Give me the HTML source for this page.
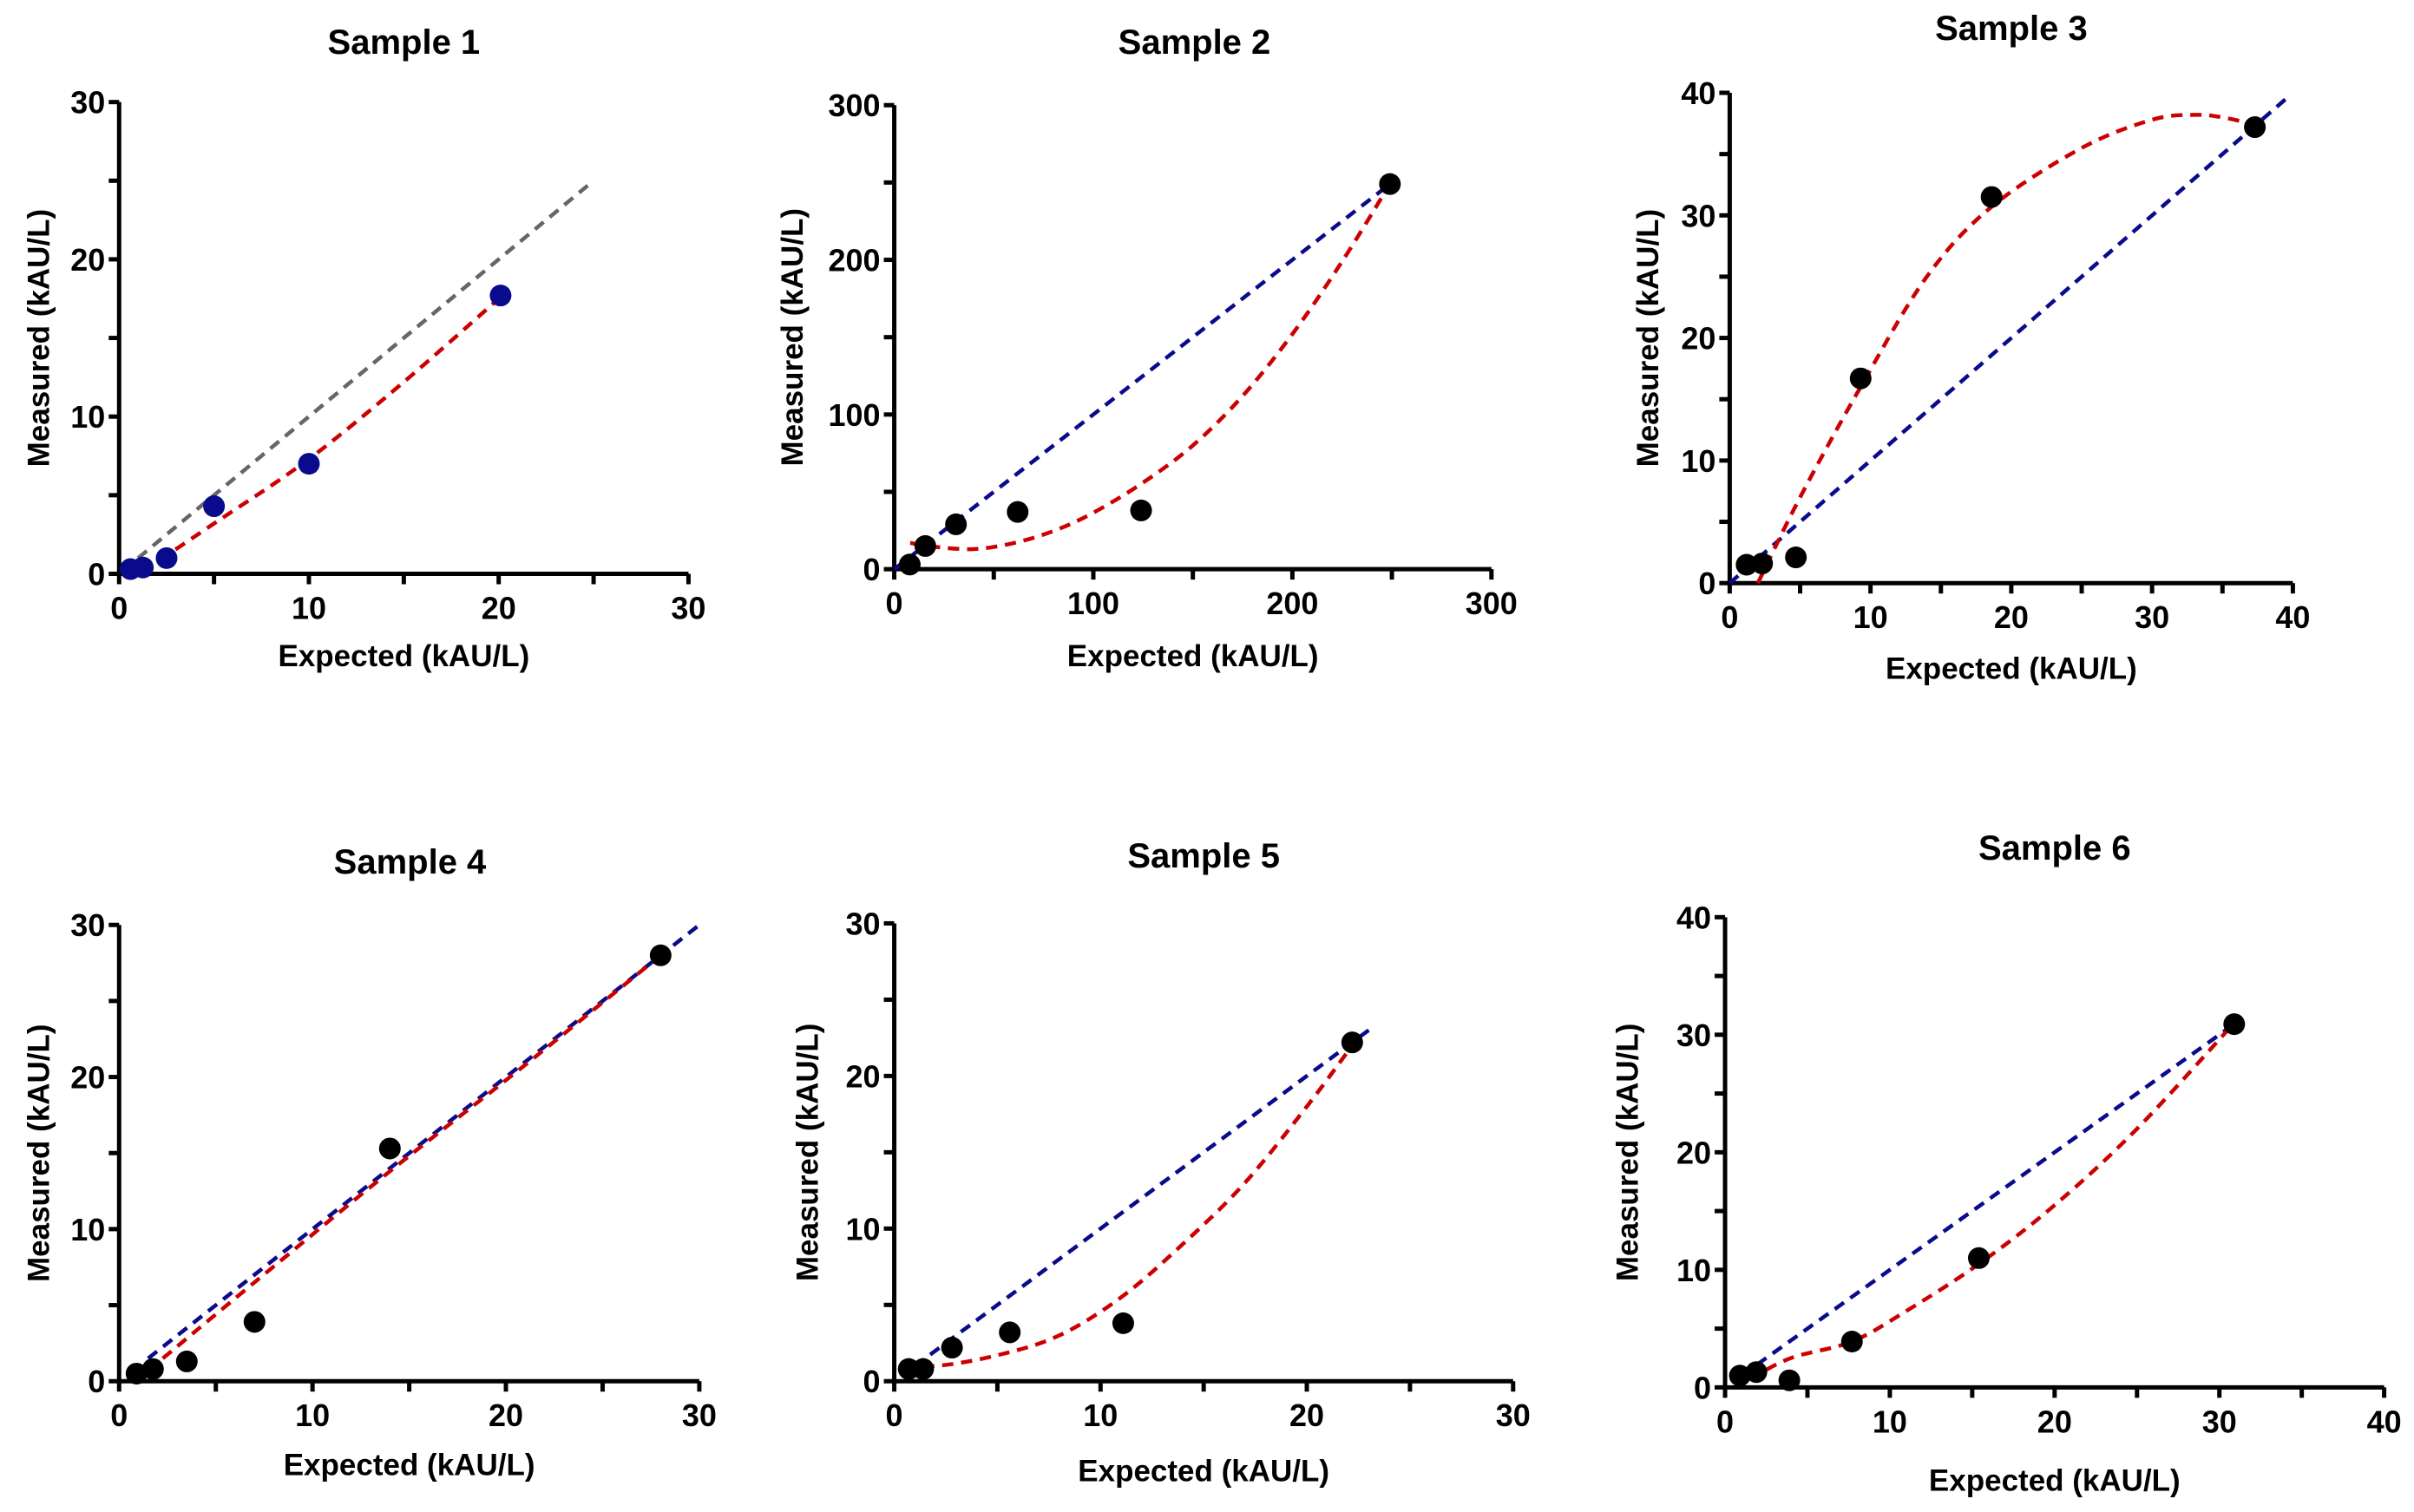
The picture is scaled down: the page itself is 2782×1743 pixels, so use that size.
<!DOCTYPE html>
<html><head><meta charset="utf-8">
<style>
html,body{margin:0;padding:0;background:#fff;}
svg{display:block;}
.title{font-family:"Liberation Sans",sans-serif;font-weight:bold;font-size:40px;fill:#000;}
.axl{font-family:"Liberation Sans",sans-serif;font-weight:bold;font-size:35px;fill:#000;}
.tick{font-family:"Liberation Sans Narrow","Liberation Sans",sans-serif;font-weight:bold;font-size:36px;fill:#000;}
</style></head>
<body>
<svg id="fig" width="2782" height="1743" viewBox="0 0 2782 1743" xmlns="http://www.w3.org/2000/svg"></svg>
<script>
// ---- data (per panel) ----
const titles = ["Sample 1","Sample 2","Sample 3","Sample 4","Sample 5","Sample 6"];
const xMaxes = [30,300,40,30,30,40];
const yMaxes = [30,300,40,30,30,40];
const majorSteps = [10,100,10,10,10,10];
const ptX1=[0.6,1.25,2.5,5,10,20.1], ptY1=[0.3,0.4,1.0,4.3,7.0,17.7];
const ptX2=[7.8,15.6,31,62,124,249], ptY2=[3,15,29,37,38,249];
const ptX3=[1.2,2.3,4.7,9.3,18.6,37.3], ptY3=[1.5,1.6,2.1,16.7,31.5,37.2];
const ptX4=[0.9,1.75,3.5,7,14,28], ptY4=[0.5,0.8,1.3,3.9,15.3,28];
const ptX5=[0.7,1.4,2.8,5.6,11.1,22.2], ptY5=[0.8,0.8,2.2,3.2,3.8,22.2];
const ptX6=[0.9,1.9,3.9,7.7,15.4,30.9], ptY6=[1,1.3,0.6,3.9,11,30.9];
const fitX1=[1.2,2.5,5,10,15,20], fitY1=[0.4,1.2,3.2,7.3,12.2,17.5];
const fitX2=[8,20,40,60,80,100,125,150,175,200,225,249], fitY2=[17,14.5,13,16.9,24.7,36.5,56,80,112,152,199,249];
const fitX3=[2,5,9.3,14,18.6,25,30,33,35,37.3], fitY3=[0,7,16,25,30.7,35.5,37.8,38.2,38,37.4];
const fitX4=[1.5,7,14,21,28], fitY4=[0.7,6.5,13.8,20.8,28];
const fitX5=[0.5,2,5,8,11,14,17,20,22.2], fitY5=[1.3,1,1.7,3,5.5,9,13,18,22];
const fitX6=[1.5,4,7.7,11,15.4,20,25,30.9], fitY6=[0.7,2.5,3.9,6.5,10.5,15.5,22,31];
const idFrom=[1,0,0,1.5,1,1], idTo=[25,250,39.5,30,23,31];
const ptColors=["#0a0a8c","#000","#000","#000","#000","#000"];
const idColors=["#666","#0a0a8c","#0a0a8c","#0a0a8c","#0a0a8c","#0a0a8c"];

// ---- layout (pixels) ----
const S=1.783;
const L=[
 {x0:77,x1:445,y0:371,y1:66,tx:261,ty:27,lx:25,xl:424},
 {x0:578,x1:964,y0:368,y1:68,tx:772,ty:27,lx:512,xl:424},
 {x0:1118,x1:1482,y0:377,y1:60,tx:1300,ty:18,lx:1065,xl:432},
 {x0:77,x1:452,y0:893,y1:598,tx:265,ty:557,lx:25,xl:947},
 {x0:578,x1:978,y0:893,y1:597,tx:778,ty:553,lx:522,xl:951},
 {x0:1115,x1:1541,y0:897,y1:593,tx:1328,ty:548,lx:1052,xl:957}
];
const PX=[ptX1,ptX2,ptX3,ptX4,ptX5,ptX6], PY=[ptY1,ptY2,ptY3,ptY4,ptY5,ptY6];
const FX=[fitX1,fitX2,fitX3,fitX4,fitX5,fitX6], FY=[fitY1,fitY2,fitY3,fitY4,fitY5,fitY6];
const NS="http://www.w3.org/2000/svg";
const svg=document.getElementById('fig');
function mk(tag,attrs,parent){const e=document.createElementNS(NS,tag);for(const k in attrs)e.setAttribute(k,attrs[k]);parent.appendChild(e);return e;}
function smooth(pts){
 let d="M"+pts[0][0]+","+pts[0][1];
 for(let i=0;i<pts.length-1;i++){
  const p0=pts[Math.max(0,i-1)],p1=pts[i],p2=pts[i+1],p3=pts[Math.min(pts.length-1,i+2)];
  const c1=[p1[0]+(p2[0]-p0[0])/6,p1[1]+(p2[1]-p0[1])/6];
  const c2=[p2[0]-(p3[0]-p1[0])/6,p2[1]-(p3[1]-p1[1])/6];
  d+=" C"+c1[0]+","+c1[1]+" "+c2[0]+","+c2[1]+" "+p2[0]+","+p2[1];
 }
 return d;
}
for(let p=0;p<6;p++){
 const l=L[p];
 const x0=l.x0*S,x1=l.x1*S,y0=l.y0*S,y1=l.y1*S;
 const xs=v=>x0+(v/xMaxes[p])*(x1-x0);
 const ys=v=>y0-(v/yMaxes[p])*(y0-y1);
 const g=mk('g',{},svg);
 
 
 const t=mk('text',{x:l.tx*S,y:l.ty*S+14,'text-anchor':'middle',class:'title'},g);
 t.textContent=titles[p];
 
 
 const yl=mk('text',{x:0,y:0,'text-anchor':'middle',class:'axl',transform:`translate(${l.lx*S+12},${(y0+y1)/2}) rotate(-90)`},g);
 yl.textContent="Measured (kAU/L)";
 
 
 const xl=mk('text',{x:(x0+x1)/2,y:l.xl*S+12,'text-anchor':'middle',class:'axl'},g);
 xl.textContent="Expected (kAU/L)";
 
 
 const ax=mk('path',{d:`M${x0},${y1} V${y0} H${x1}`,fill:'none',stroke:'#000','stroke-width':5},g);
 
 
 const st=majorSteps[p];
 for(let v=0;v<=xMaxes[p]+1e-9;v+=st/2){
  const major=Math.abs(v/st-Math.round(v/st))<1e-6;
  mk('line',{x1:xs(v),x2:xs(v),y1:y0,y2:y0+12,stroke:'#000','stroke-width':5},g);
  if(major){const tx=mk('text',{x:xs(v),y:y0+52,'text-anchor':'middle',class:'tick'},g);tx.textContent=Math.round(v);
   
   }
 }
 for(let v=0;v<=yMaxes[p]+1e-9;v+=st/2){
  const major=Math.abs(v/st-Math.round(v/st))<1e-6;
  mk('line',{x1:x0-12,x2:x0,y1:ys(v),y2:ys(v),stroke:'#000','stroke-width':5},g);
  if(major){const ty=mk('text',{x:x0-16,y:ys(v)+13,'text-anchor':'end',class:'tick'},g);ty.textContent=Math.round(v);
   
   }
 }
 const idl=mk('line',{x1:xs(idFrom[p]),y1:ys(idFrom[p]),x2:xs(idTo[p]),y2:ys(idTo[p]),stroke:idColors[p],'stroke-width':4.5,'stroke-dasharray':'13 9'},g);
 
 
 const pts=FX[p].map((v,i)=>[xs(v),ys(FY[p][i])]);
 const fc=mk('path',{d:smooth(pts),fill:'none',stroke:'#cc0000','stroke-width':4.5,'stroke-dasharray':'13 9'},g);
 
 
 PX[p].forEach((v,i)=>{
  const c=mk('circle',{cx:xs(v),cy:ys(PY[p][i]),r:12.5,fill:ptColors[p]},g);
  
  
 });
}
</script>
</body></html>
